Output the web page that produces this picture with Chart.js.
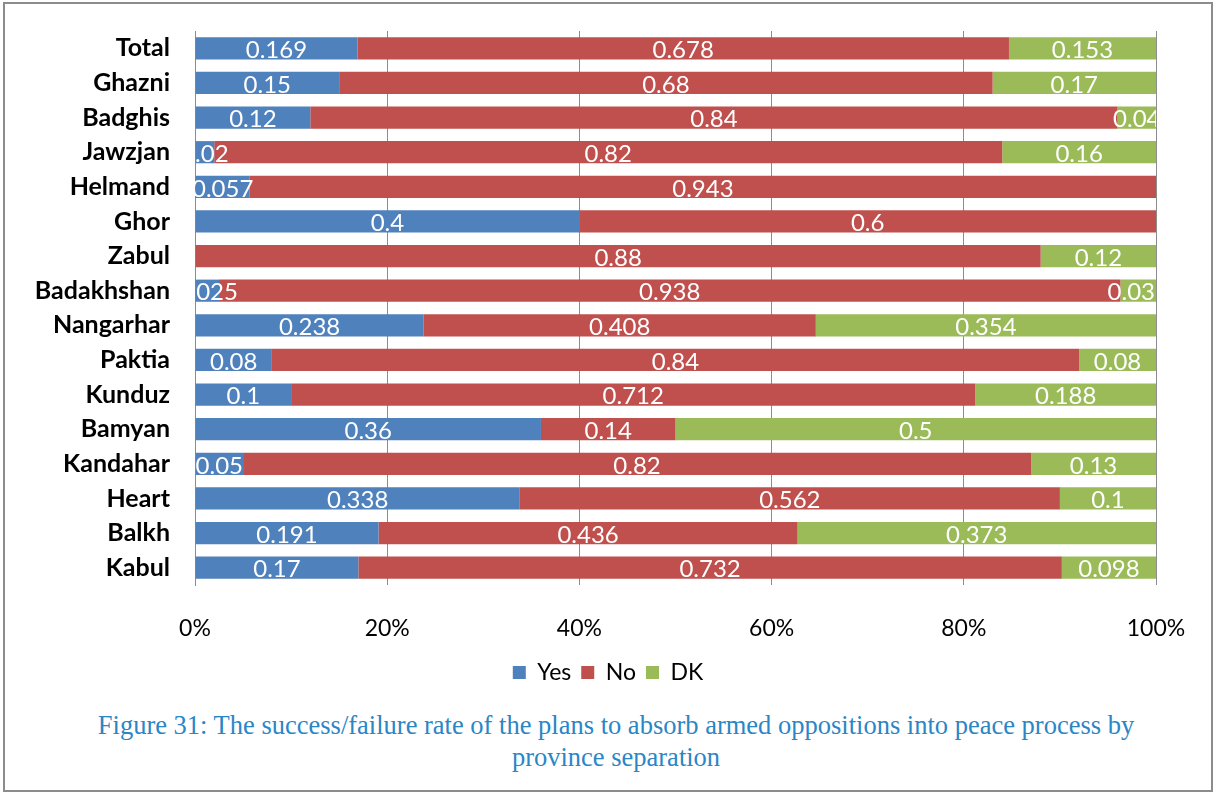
<!DOCTYPE html>
<html>
<head>
<meta charset="utf-8">
<script src="https://cdn.jsdelivr.net/npm/chart.js@4"></script>
<style>
  html, body { margin: 0; padding: 0; background: #fff; }
  #frame { position: absolute; left: 3px; top: 2px; width: 1206px; height: 786px; border: 2px solid #8c8c8c; }
  #wrap { position: absolute; left: 0; top: 0; width: 1216px; height: 700px; }
  #caption { position: absolute; left: 0; top: 709px; width: 1232px; text-align: center;
    font-family: "Liberation Serif", "Times New Roman", serif; font-size: 26.5px; line-height: 32px; color: #2a86c6; }
</style>
</head>
<body>
<div id="frame"></div>
<div id="wrap"><canvas id="c" width="1216" height="700"></canvas></div>
<div id="caption">Figure 31: The success/failure rate of the plans to absorb armed oppositions into peace process by<br>province separation</div>
<script>
const categories = ["Total","Ghazni","Badghis","Jawzjan","Helmand","Ghor","Zabul","Badakhshan","Nangarhar","Paktia","Kunduz","Bamyan","Kandahar","Heart","Balkh","Kabul"];
const yesValues = [0.169,0.15,0.12,0.02,0.057,0.4,0,0.025,0.238,0.08,0.1,0.36,0.05,0.338,0.191,0.17];
const noValues  = [0.678,0.68,0.84,0.82,0.943,0.6,0.88,0.938,0.408,0.84,0.712,0.14,0.82,0.562,0.436,0.732];
const dkValues  = [0.153,0.17,0.04,0.16,0,0,0.12,0.037,0.354,0.08,0.188,0.5,0.13,0.1,0.373,0.098];
const xTicks = [0,0.2,0.4,0.6,0.8,1];
const xTickLabels = ["0%","20%","40%","60%","80%","100%"];

const FONT = "Lato, 'Open Sans', sans-serif";

const labelPlugin = {
  id: 'segLabels',
  afterLayout(chart) {
    if (chart.legend) { chart.legend.left += 30; chart.legend.right += 30; }
  },
  afterDatasetsDraw(chart) {
    const ctx = chart.ctx, a = chart.chartArea;
    ctx.save();
    ctx.beginPath();
    ctx.rect(a.left, a.top, a.right - a.left, a.bottom - a.top);
    ctx.clip();
    ctx.fillStyle = '#ffffff';
    ctx.font = "24px " + FONT;
    ctx.textAlign = 'center';
    ctx.textBaseline = 'middle';
    chart.data.datasets.forEach((ds, di) => {
      const meta = chart.getDatasetMeta(di);
      meta.data.forEach((bar, i) => {
        const v = ds.data[i];
        if (!v) return;
        ctx.fillText(String(v), (bar.x + bar.base) / 2, bar.y + 2);
      });
    });
    ctx.restore();
  }
};

new Chart(document.getElementById('c'), {
  type: 'bar',
  data: {
    labels: categories,
    datasets: [
      { label: 'Yes', data: yesValues, backgroundColor: '#4f81bd' },
      { label: 'No', data: noValues, backgroundColor: '#c0504d' },
      { label: 'DK', data: dkValues, backgroundColor: '#9bbb59' }
    ]
  },
  options: {
    indexAxis: 'y',
    responsive: false,
    animation: false,
    categoryPercentage: 1,
    barPercentage: 0.64,
    layout: { padding: { left: 0, right: 60, top: 31, bottom: 6 } },
    scales: {
      x: {
        stacked: true, min: 0, max: 1,
        afterBuildTicks(scale) { scale.ticks = xTicks.map(v => ({ value: v })); },
        afterFit(scale) { scale.height = 66; scale.paddingLeft = 0; scale.paddingRight = 0; },
        grid: { color: '#8c8c8c', lineWidth: 1, drawTicks: false },
        border: { display: false },
        ticks: {
          padding: 30, color: '#000',
          font: { family: FONT, size: 23 },
          callback(v) { const i = xTicks.indexOf(v); return i >= 0 ? xTickLabels[i] : ''; }
        }
      },
      y: {
        stacked: true,
        afterFit(scale) { scale.width = 195; scale.paddingTop = 0; scale.paddingBottom = 0; },
        grid: { display: false, drawTicks: false },
        border: { display: true, color: '#8c8c8c', width: 1 },
        ticks: { padding: 25, color: '#000', font: { family: FONT, size: 25, weight: 'bold' } }
      }
    },
    plugins: {
      legend: {
        position: 'bottom',
        labels: { boxWidth: 13, boxHeight: 13, color: '#000', padding: 10, font: { family: FONT, size: 23 } }
      },
      tooltip: { enabled: false }
    }
  },
  plugins: [labelPlugin]
});
</script>
</body>
</html>
